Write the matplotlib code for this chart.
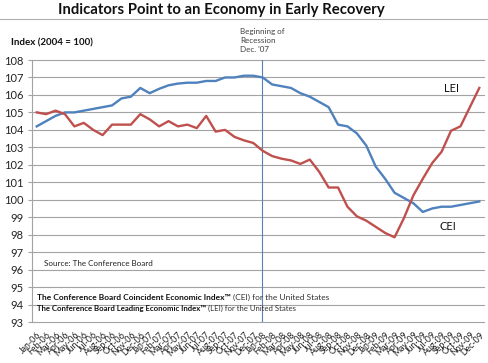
import matplotlib
matplotlib.use('Agg')
import matplotlib.pyplot as plt

plt.rcParams['font.family'] = ['Lato', 'DejaVu Sans']

months = ['Jan-06', 'Feb-06', 'Mar-06', 'Apr-06', 'May-06', 'Jun-06', 'Jul-06', 'Aug-06',
          'Sep-06', 'Oct-06', 'Nov-06', 'Dec-06', 'Jan-07', 'Feb-07', 'Mar-07', 'Apr-07',
          'May-07', 'Jun-07', 'Jul-07', 'Aug-07', 'Sep-07', 'Oct-07', 'Nov-07', 'Dec-07',
          'Jan-08', 'Feb-08', 'Mar-08', 'Apr-08', 'May-08', 'Jun-08', 'Jul-08', 'Aug-08',
          'Sep-08', 'Oct-08', 'Nov-08', 'Dec-08', 'Jan-09', 'Feb-09', 'Mar-09', 'Apr-09',
          'May-09', 'Jun-09', 'Jul-09', 'Aug-09', 'Sep-09', 'Oct-09', 'Nov-09', 'Dec-09']

cei = [104.2, 104.5, 104.8, 105.0, 105.0, 105.1, 105.2, 105.3, 105.4, 105.8, 105.9, 106.4,
       106.1, 106.35, 106.55, 106.65, 106.7, 106.7, 106.8, 106.8, 107.0, 107.0, 107.1, 107.1,
       107.0, 106.6, 106.5, 106.4, 106.1, 105.9, 105.6, 105.3, 104.3, 104.2, 103.8, 103.1,
       101.9, 101.2, 100.4, 100.1, 99.8, 99.3, 99.5, 99.6, 99.6, 99.7, 99.8, 99.9]

lei = [105.0, 104.9, 105.1, 104.9, 104.2, 104.4, 104.0, 103.7, 104.3, 104.3, 104.3, 104.9,
       104.6, 104.2, 104.5, 104.2, 104.3, 104.1, 104.8, 103.9, 104.0, 103.6, 103.4, 103.25,
       102.8, 102.5, 102.35, 102.25, 102.05, 102.3, 101.6, 100.7, 100.7, 99.6, 99.05, 98.8,
       98.45, 98.1, 97.85, 98.95, 100.25, 101.2, 102.1, 102.75, 103.95, 104.2, 105.3, 106.4]

y_ticks = list(range(93, 109))
recession_pos = 23.9  # between Dec-07 and Jan-08

W, H = 489, 363
fig = plt.figure(figsize=(W / 100, H / 100), dpi=100)
ax = fig.add_axes([32 / W, 1 - 322 / H, (484 - 32) / W, (322 - 60) / H])

xs = list(range(len(months)))
ax.plot(xs, cei, color='#4F81BD', lw=1.7, zorder=3)
ax.plot(xs, lei, color='#C0504D', lw=1.7, zorder=3)
ax.axvline(recession_pos, color='#5a80b8', lw=0.8, zorder=2)

ax.set_xlim(-0.5, len(months) - 0.5)
ax.set_ylim(93, 108)
ax.set_yticks(y_ticks)
ax.grid(axis='y', color='#a3a3a3', lw=0.8, clip_on=False)
ax.set_axisbelow(True)
for s in ['top', 'right', 'bottom']:
    ax.spines[s].set_visible(False)
ax.spines['left'].set_color('#a3a3a3')
ax.spines['left'].set_linewidth(0.8)
ax.tick_params(axis='y', length=3, width=0.8, color='#a3a3a3', labelsize=8, pad=3, labelcolor='#222222')
ax.set_xticks(xs)
ax.set_xticklabels(months, rotation=45, ha='right', rotation_mode='anchor', fontsize=6.3, color='#222222')
ax.tick_params(axis='x', length=0, pad=6)

fig.canvas.draw()
r = fig.canvas.get_renderer()


def fit(s, x, y, w, ha='left', va='center', **kw):
    t = fig.text(x / W, 1 - y / H, s, ha=ha, va=va, fontsize=10, **kw)
    bb = t.get_window_extent(r)
    t.set_fontsize(10 * w / bb.width)
    return t


# title and rule
fit('Indicators Point to an Economy in Early Recovery', 58, 10, 326, fontweight='bold', color='#111111')
fig.add_artist(plt.Line2D([0, 1], [1 - 18.5 / H, 1 - 18.5 / H], color='#b0b0b0', lw=0.8))

fit('Index (2004 = 100)', 11, 43, 82, fontweight='bold', color='#111111')

fig.text(240 / W, 1 - 28 / H, "Beginning of\nRecession\nDec. '07", ha='left', va='top',
         fontsize=5.8, color='#404040', linespacing=1.3)

fit('Source: The Conference Board', 44, 263, 108, color='#222222')

fig.text(444 / W, 1 - 88 / H, 'LEI', ha='left', va='center', fontsize=8, color='#111111')
fig.text(440 / W, 1 - 226 / H, 'CEI', ha='left', va='center', fontsize=8, color='#111111')


def footnote(bold, normal, y, w_bold):
    t = fit(bold, 37, y, w_bold, fontweight='bold', color='#111111')
    bb = t.get_window_extent(r)
    t2 = fig.text((bb.x1 + 2) / W, 1 - y / H, normal, ha='left', va='center',
                  fontsize=t.get_fontsize(), color='#333333')
    return t2


footnote('The Conference Board Coincident Economic Index\u2122', '(CEI) for the United States', 297, 194)
footnote('The Conference Board Leading Economic Index\u2122', '(LEI) for the United States', 308, 171)

fig.savefig('out.png', dpi=100)
